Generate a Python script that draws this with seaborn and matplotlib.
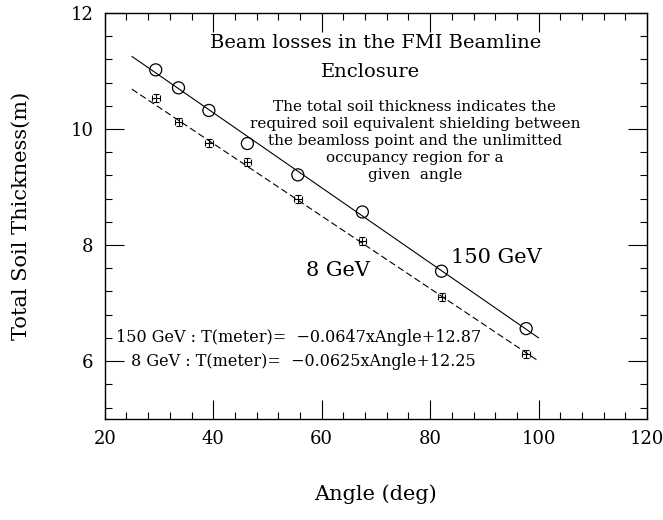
import numpy as np
import pandas as pd
import matplotlib
matplotlib.use("Agg")
import matplotlib.pyplot as plt
import seaborn as sns

# measured points (angle in deg, thickness in m)
angles = [29.4, 33.6, 39.2, 46.3, 55.6, 67.5, 82.1, 97.7]
thick_150 = [11.02, 10.71, 10.32, 9.75, 9.21, 8.57, 7.55, 6.56]
thick_8 = [10.53, 10.12, 9.76, 9.43, 8.79, 8.07, 7.11, 6.12]
err_angle = 0.7
err_thick = 0.07

# fit lines shown on the plot
fit_range = [25, 100]
slope_150, icpt_150 = -0.0647, 12.87
slope_8, icpt_8 = -0.0625, 12.25

sns.set_style("ticks")
plt.rcParams['font.family'] = ['DejaVu Serif']
for k in ['text.color', 'axes.labelcolor', 'xtick.color', 'ytick.color', 'axes.edgecolor']:
    plt.rcParams[k] = 'black'

fig = plt.figure(figsize=(6.63, 5.20), dpi=100)
ax = fig.add_axes([0.158, 0.194, 0.818, 0.781])

fit = pd.DataFrame({'angle': fit_range})
fit['t150'] = slope_150 * fit['angle'] + icpt_150
fit['t8'] = slope_8 * fit['angle'] + icpt_8

sns.lineplot(data=fit, x='angle', y='t150', color='black', lw=0.8, ax=ax)
sns.lineplot(data=fit, x='angle', y='t8', color='black', lw=0.8, ax=ax)
ax.lines[-1].set_dashes((6, 3))

pts = pd.DataFrame({'angle': angles, 't150': thick_150, 't8': thick_8})
sns.scatterplot(data=pts, x='angle', y='t150', marker='o', s=75,
                facecolor='none', edgecolor='black', linewidth=0.9, ax=ax, zorder=3)
ax.errorbar(pts['angle'], pts['t8'], xerr=err_angle, yerr=err_thick,
            fmt='none', ecolor='black', elinewidth=0.8, capsize=2.5, capthick=0.8)

ax.set_xlim(20, 120)
ax.set_ylim(5, 12)
ax.set_xticks([20, 40, 60, 80, 100, 120])
ax.set_xticks(np.arange(20, 121, 4), minor=True)
ax.set_yticks([6, 8, 10, 12])
ax.set_yticks(np.arange(5.2, 12.01, 0.4), minor=True)
ax.tick_params(which='both', direction='in', top=True, right=True, width=0.8,
               labelsize=13)
ax.tick_params(which='major', length=14, pad=8)
ax.tick_params(which='minor', length=5)
for s in ax.spines.values():
    s.set_linewidth(1.0)

ax.set_xlabel('Angle (deg)', fontsize=15, labelpad=26)
ax.set_ylabel('Total Soil Thickness(m)', fontsize=15, labelpad=29)

ax.text(70, 11.48, 'Beam losses in the FMI Beamline', fontsize=14,
        ha='center', va='center')
ax.text(69, 10.98, 'Enclosure', fontsize=14, ha='center', va='center')
note = ('The total soil thickness indicates the\n'
        'required soil equivalent shielding between\n'
        'the beamloss point and the unlimitted\n'
        'occupancy region for a\n'
        'given  angle')
ax.text(77.2, 9.79, note, fontsize=11, ha='center', va='center',
        linespacing=1.28)
ax.text(83.8, 7.78, '150 GeV', fontsize=15, ha='left', va='center')
ax.text(57.1, 7.57, '8 GeV', fontsize=15, ha='left', va='center')
ax.text(22.0, 6.41, '150 GeV : T(meter)=  \u22120.0647xAngle+12.87',
        fontsize=11.5, ha='left', va='center')
ax.text(24.8, 6.0, '8 GeV : T(meter)=  \u22120.0625xAngle+12.25',
        fontsize=11.5, ha='left', va='center')

plt.savefig('out.png', dpi=100)
